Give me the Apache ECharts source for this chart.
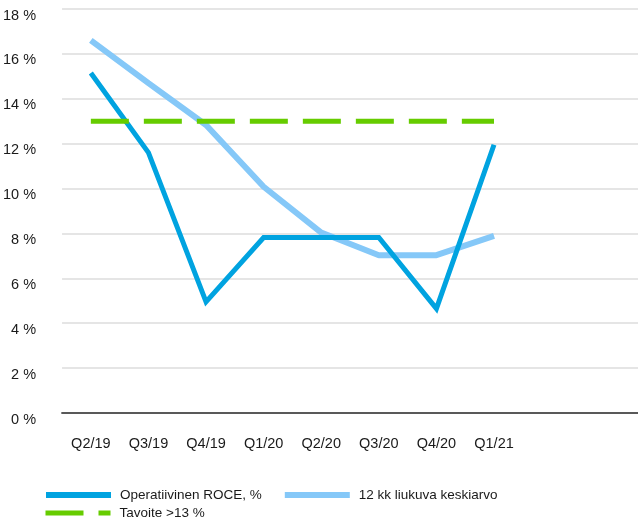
<!DOCTYPE html>
<html>
<head>
<meta charset="utf-8">
<script src="https://cdn.jsdelivr.net/npm/echarts@6/dist/echarts.min.js"></script>
<style>
  html, body { margin: 0; padding: 0; background: #fff; }
  #main { width: 638px; height: 525px; }
</style>
</head>
<body>
<div id="main"></div>
<script>
// kvartaalit
const quarters = ['Q2/19', 'Q3/19', 'Q4/19', 'Q1/20', 'Q2/20', 'Q3/20', 'Q4/20', 'Q1/21'];
const roce = [15.15, 11.6, 4.95, 7.82, 7.82, 7.82, 4.65, 11.95];
const movingAvg = [16.6, 14.7, 12.83, 10.08, 8.04, 7.03, 7.03, 7.89];
const target = [13, 13, 13, 13, 13, 13, 13, 13];
const yTicks = [0, 2, 4, 6, 8, 10, 12, 14, 16, 18];

const font = 'Liberation Sans, Arial, sans-serif';
const chart = echarts.init(document.getElementById('main'), null, { renderer: 'canvas' });

const legendText = { fontSize: 13.5, color: '#1a1a1a', padding: [0, 0, 0, 4] };

chart.setOption({
  animation: false,
  textStyle: { fontFamily: font },
  grid: { left: 62, right: 0, top: 9, bottom: 112 },
  legend: [
    {
      left: 38, top: 483,
      itemWidth: 65, itemHeight: 14, itemGap: 20,
      textStyle: legendText,
      itemStyle: { opacity: 0 },
      data: [
        { name: 'Operatiivinen ROCE, %', lineStyle: { width: 6 } },
        { name: '12 kk liukuva keskiarvo', lineStyle: { width: 6 } }
      ]
    },
    {
      left: 38, top: 501,
      itemWidth: 65, itemHeight: 14,
      textStyle: legendText,
      itemStyle: { opacity: 0 },
      data: [{ name: 'Tavoite >13 %', lineStyle: { width: 5 } }]
    }
  ],
  xAxis: {
    type: 'category',
    data: quarters,
    max: 9,
    boundaryGap: true,
    axisLine: { lineStyle: { color: '#595959', width: 2 } },
    axisTick: { show: false },
    axisLabel: {
      fontSize: 14.5, color: '#1a1a1a', margin: 23,
      formatter: v => v || ''
    },
    splitLine: { show: false }
  },
  yAxis: {
    type: 'value',
    min: yTicks[0],
    max: yTicks[yTicks.length - 1],
    interval: 2,
    axisLine: { show: false },
    axisTick: { show: false },
    axisLabel: {
      fontSize: 14.5, color: '#1a1a1a', margin: 26,
      verticalAlign: 'top', lineHeight: 13,
      formatter: v => v + ' %'
    },
    splitLine: { lineStyle: { color: '#dcdcdc', width: 1.5 } }
  },
  series: [
    {
      name: 'Operatiivinen ROCE, %',
      type: 'line',
      data: roce,
      symbol: 'none',
      z: 3,
      lineStyle: { color: '#00a3e0', width: 5, join: 'miter' },
      itemStyle: { color: '#00a3e0' }
    },
    {
      name: '12 kk liukuva keskiarvo',
      type: 'line',
      data: movingAvg,
      symbol: 'none',
      z: 2,
      lineStyle: { color: '#85c8f8', width: 6 },
      itemStyle: { color: '#85c8f8' }
    },
    {
      name: 'Tavoite >13 %',
      type: 'line',
      data: target,
      symbol: 'none',
      z: 4,
      lineStyle: { color: '#66cc00', width: 5, type: [38, 15], cap: 'butt' },
      itemStyle: { color: '#66cc00' }
    }
  ]
});
</script>
</body>
</html>
